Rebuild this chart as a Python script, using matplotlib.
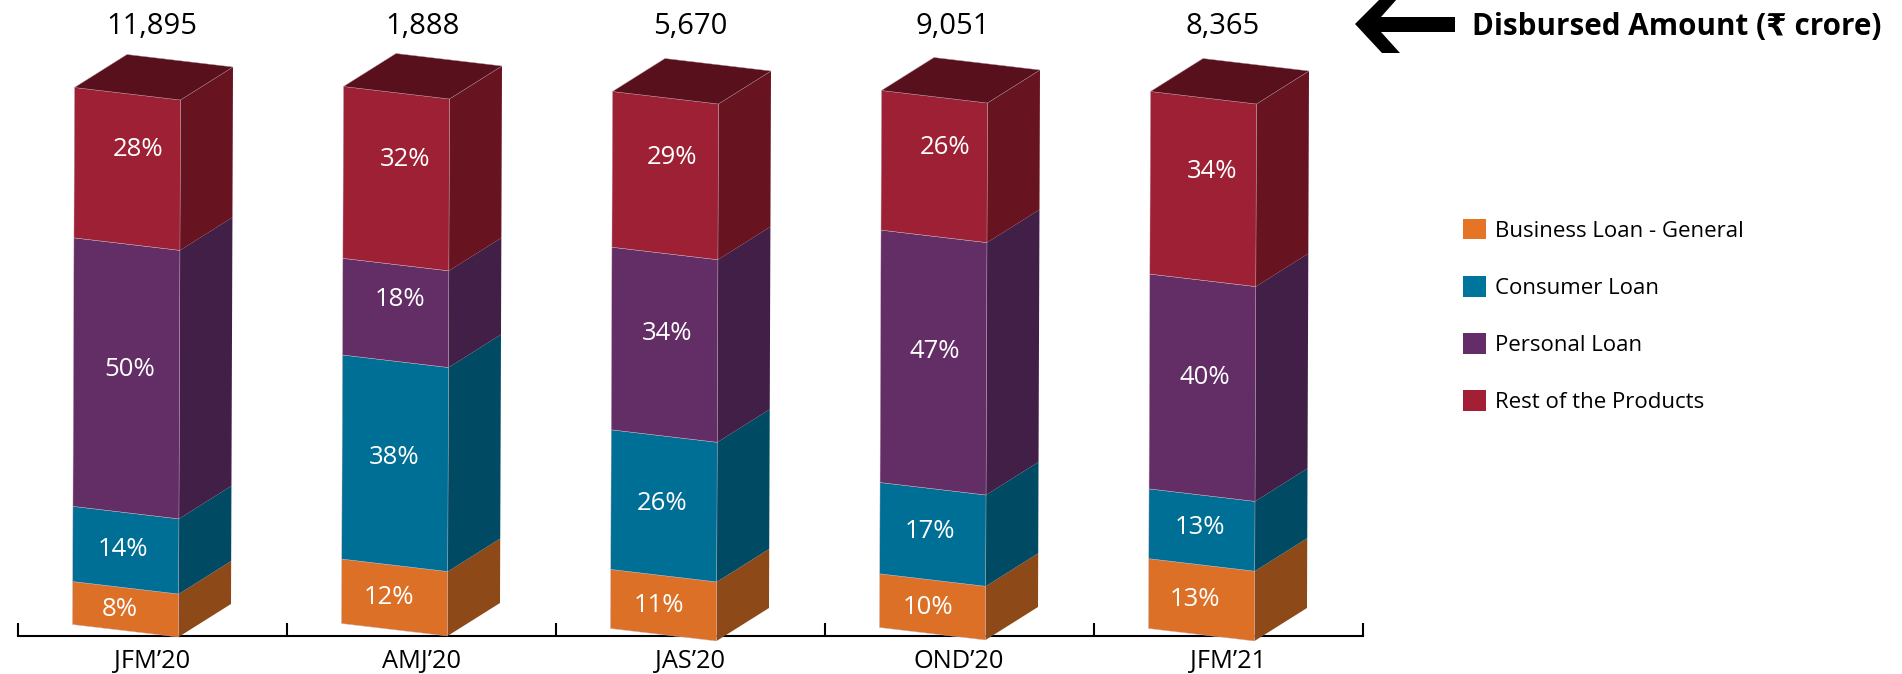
import matplotlib
matplotlib.use("Agg")
import matplotlib.pyplot as plt
from matplotlib.patches import Patch, Polygon
from matplotlib.transforms import Affine2D

plt.rcParams["font.family"] = ["Open Sans", "DejaVu Sans"]

# data
quarters = ["JFM’20", "AMJ’20", "JAS’20", "OND’20", "JFM’21"]
disbursed = ["11,895", "1,888", "5,670", "9,051", "8,365"]
series_names = ["Business Loan - General", "Consumer Loan", "Personal Loan", "Rest of the Products"]
business = [8, 12, 11, 10, 13]
consumer = [14, 38, 26, 17, 13]
personal = [50, 18, 34, 47, 40]
rest = [28, 32, 29, 26, 34]
series = [business, consumer, personal, rest]

# colours: front, side
front_colors = ["#DD7027", "#006F95", "#632D66", "#9E2035"]
side_colors = ["#8D4A18", "#004A63", "#421F47", "#671320"]
top_color = "#59101D"
legend_colors = ["#E57525", "#00759B", "#642D69", "#A21F36"]

# layout, all in pixels of the 1902x674 picture
W, H = 1902, 674
AXIS_Y = 636
PX_PER_PCT = 5.37
CAT_STEP = 269
CAT_X0 = 152
BAR_W = 106
BAR_RIGHT = 26.5    # front right edge relative to category centre
LEAN = 2            # bars lean a little to the right going up
FRONT_DROP = 12.5   # front face slopes down towards the right
DEPTH_X, DEPTH_Y = 52.5, 33
base_shift = [1, 0, 5, 4, 5]    # some bars sit a bit under the axis

# the percentages were placed by hand in the original
label_x = [[120, 389, 659, 928, 1195],
           [123, 394, 662, 930, 1200],
           [130, 400, 667, 935, 1205],
           [138, 405, 672, 945, 1212]]
label_y = [[610, 598, 606, 608, 599],
           [549, 457, 503, 532, 527],
           [369, 300, 334, 352, 378],
           [150, 160, 157, 147, 172]]
total_x = [152, 422, 690, 953, 1223]


def face(i, low, high, kind):
    """polygon of one face in data units (category, percent)"""
    shift = -base_shift[i] / PX_PER_PCT
    dx = lambda px: px / CAT_STEP
    dy = lambda px: px / PX_PER_PCT
    right0 = i + dx(BAR_RIGHT + LEAN * low / 100)
    right1 = i + dx(BAR_RIGHT + LEAN * high / 100)
    y0, y1 = low + shift, high + shift
    if kind == "front":
        return [(right0 - dx(BAR_W), y0 + dy(FRONT_DROP)), (right0, y0),
                (right1, y1), (right1 - dx(BAR_W), y1 + dy(FRONT_DROP))]
    if kind == "side":
        return [(right0, y0), (right0 + dx(DEPTH_X), y0 + dy(DEPTH_Y)),
                (right1 + dx(DEPTH_X), y1 + dy(DEPTH_Y)), (right1, y1)]
    return [(right1, y1), (right1 - dx(BAR_W), y1 + dy(FRONT_DROP)),
            (right1 - dx(BAR_W) + dx(DEPTH_X), y1 + dy(FRONT_DROP + DEPTH_Y)),
            (right1 + dx(DEPTH_X), y1 + dy(DEPTH_Y))]


fig = plt.figure(figsize=(W / 100, H / 100), dpi=100)
ax = fig.add_axes([0, 0, 1, 1])
ax.set_xlim(-CAT_X0 / CAT_STEP, (W - CAT_X0) / CAT_STEP)
ax.set_ylim(-(H - AXIS_Y) / PX_PER_PCT, AXIS_Y / PX_PER_PCT)
ax.patch.set_visible(False)

# pixel coordinates for the free standing text
px = Affine2D().scale(1, -1).translate(0, H)

for i in range(len(quarters)):
    low = 0
    for s, values in enumerate(series):
        high = low + values[i]
        ax.add_patch(Polygon(face(i, low, high, "side"), closed=True, fc=side_colors[s],
                             ec="none", zorder=3))
        ax.add_patch(Polygon(face(i, low, high, "front"), closed=True, fc=front_colors[s],
                             ec="#C9B3BE", lw=0.3, zorder=4))
        ax.text(label_x[s][i], label_y[s][i], f"{values[i]}%", color="white", fontsize=18.5,
                ha="center", va="center", transform=px, zorder=6)
        low = high
    ax.add_patch(Polygon(face(i, low, low, "top"), closed=True, fc=top_color,
                         ec="#B08C96", lw=0.3, zorder=5))
    ax.text(total_x[i], 27, disbursed[i], color="black", fontsize=21,
            ha="center", va="center", transform=px)

# axis with ticks between the quarters
for name in ["top", "left", "right"]:
    ax.spines[name].set_visible(False)
ax.spines["bottom"].set_position(("data", 0))
ax.spines["bottom"].set_bounds(-0.5, len(quarters) - 0.5)
ax.spines["bottom"].set_linewidth(1.5)
ax.set_yticks([])
ax.set_xticks([i - 0.5 for i in range(len(quarters) + 1)])
ax.set_xticklabels([])
ax.set_xticks(range(len(quarters)), minor=True)
ax.set_xticklabels(quarters, minor=True, fontsize=18.3)
ax.tick_params(axis="x", which="major", direction="in", length=9.5, width=1.5, color="black")
ax.tick_params(axis="x", which="minor", length=0, pad=9.5)

# header with arrow
arrow = [(1355, 24), (1382, 53), (1400, 53), (1381, 32), (1455, 32),
         (1455, 17), (1381, 17), (1397, -1), (1380, -1)]
ax.add_patch(Polygon(arrow, closed=True, fc="black", ec="none", transform=px))
ax.text(1472, 27, "Disbursed Amount (₹ crore)", fontsize=21.3, fontweight="bold",
        ha="left", va="center", transform=px)

handles = [Patch(fc=c, ec="none") for c in legend_colors]
ax.legend(handles, series_names, loc="upper left", bbox_to_anchor=(1463, 219),
          bbox_transform=px, frameon=False, fontsize=16, borderpad=0, borderaxespad=0,
          handlelength=1.04, handleheight=1.04, handletextpad=0.42, labelspacing=1.54)

fig.savefig("out.png", dpi=100)
